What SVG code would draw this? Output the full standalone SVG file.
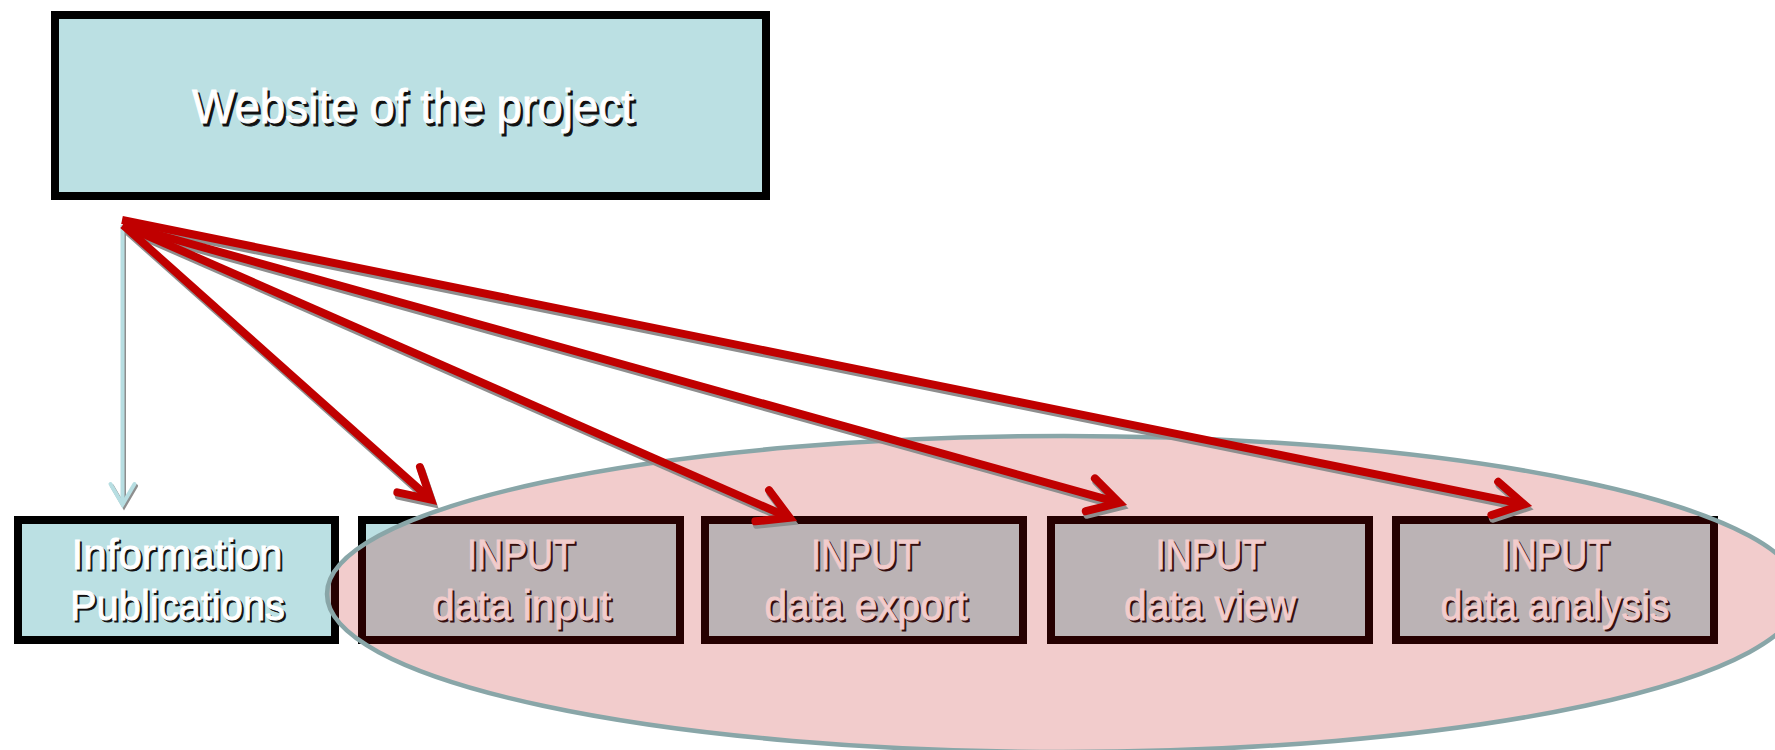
<svg xmlns="http://www.w3.org/2000/svg" width="1775" height="750" viewBox="0 0 1775 750">
<style>
  .box{fill:#BBE0E3;stroke:#000;stroke-width:8}
  .boxsh{fill:#222}
  .t{font-family:"Liberation Sans Narrow","Liberation Sans",Arial,sans-serif;fill:#fff;stroke:#fff;stroke-width:0.9;text-anchor:middle}
  .ts{font-family:"Liberation Sans Narrow","Liberation Sans",Arial,sans-serif;fill:#111;stroke:#111;stroke-width:0.9;text-anchor:middle}
  .big{font-size:49px}
  .sm{font-size:43px}
  .red{fill:none;stroke:#C00000;stroke-width:8}
  .redsh{fill:none;stroke:#8E8E8E;stroke-width:8}
  .blue{fill:none;stroke:#B7DEE2;stroke-width:4}
  .bluesh{fill:none;stroke:#8E8E8E;stroke-width:4}
</style>
<defs>
  <marker id="hr" markerUnits="userSpaceOnUse" orient="auto" refX="-9" refY="0" markerWidth="60" markerHeight="60" viewBox="-50 -30 60 60" overflow="visible">
    <path d="M -38,-17 L -8,0 L -38,17" fill="none" stroke="#C00000" stroke-width="8" stroke-linecap="round" stroke-linejoin="miter"/>
  </marker>
  <marker id="hrs" markerUnits="userSpaceOnUse" orient="auto" refX="-9" refY="0" markerWidth="60" markerHeight="60" viewBox="-50 -30 60 60" overflow="visible">
    <path d="M -38,-17 L -8,0 L -38,17" fill="none" stroke="#8E8E8E" stroke-width="8" stroke-linecap="round" stroke-linejoin="miter"/>
  </marker>
  <marker id="hb" markerUnits="userSpaceOnUse" orient="auto" refX="-4" refY="0" markerWidth="40" markerHeight="40" viewBox="-30 -20 40 40" overflow="visible">
    <path d="M -25,-12 L -4.5,0 L -25,12" fill="none" stroke="#B7DEE2" stroke-width="4" stroke-linecap="round"/>
  </marker>
  <marker id="hbs" markerUnits="userSpaceOnUse" orient="auto" refX="-4" refY="0" markerWidth="40" markerHeight="40" viewBox="-30 -20 40 40" overflow="visible">
    <path d="M -25,-12 L -4.5,0 L -25,12" fill="none" stroke="#8E8E8E" stroke-width="4" stroke-linecap="round"/>
  </marker>
</defs>
<rect width="1775" height="750" fill="#fff"/>

<g id="website">
  <rect class="boxsh" x="58" y="18" width="711" height="181"/>
  <rect class="box" x="55" y="15" width="711" height="181"/>
  <text class="ts big" x="415.5" y="125.5" textLength="442" lengthAdjust="spacingAndGlyphs">Website of the project</text>
  <text class="t big" x="413" y="123" textLength="442" lengthAdjust="spacingAndGlyphs">Website of the project</text>
</g>

<g id="info">
  <rect class="box" x="18" y="520" width="317" height="120"/>
  <text class="ts sm" x="179" y="571" textLength="211" lengthAdjust="spacingAndGlyphs">Information</text>
  <text class="t sm" x="177" y="569" textLength="211" lengthAdjust="spacingAndGlyphs">Information</text>
  <text class="ts sm" x="179.5" y="622" textLength="215" lengthAdjust="spacingAndGlyphs">Publications</text>
  <text class="t sm" x="177.5" y="620" textLength="215" lengthAdjust="spacingAndGlyphs">Publications</text>
</g>

<g id="input-data-input">
  <rect class="box" x="362" y="520" width="318" height="120"/>
  <text class="ts sm" x="523" y="571" textLength="108" lengthAdjust="spacingAndGlyphs">INPUT</text>
  <text class="t sm" x="521" y="569" textLength="108" lengthAdjust="spacingAndGlyphs">INPUT</text>
  <text class="ts sm" x="523.5" y="622" textLength="179" lengthAdjust="spacingAndGlyphs">data input</text>
  <text class="t sm" x="521.5" y="620" textLength="179" lengthAdjust="spacingAndGlyphs">data input</text>
</g>

<g id="input-data-export">
  <rect class="box" x="705" y="520" width="318" height="120"/>
  <text class="ts sm" x="867" y="571" textLength="108" lengthAdjust="spacingAndGlyphs">INPUT</text>
  <text class="t sm" x="865" y="569" textLength="108" lengthAdjust="spacingAndGlyphs">INPUT</text>
  <text class="ts sm" x="868" y="622" textLength="203" lengthAdjust="spacingAndGlyphs">data export</text>
  <text class="t sm" x="866" y="620" textLength="203" lengthAdjust="spacingAndGlyphs">data export</text>
</g>

<g id="input-data-view">
  <rect class="box" x="1051" y="520" width="318" height="120"/>
  <text class="ts sm" x="1212" y="571" textLength="109" lengthAdjust="spacingAndGlyphs">INPUT</text>
  <text class="t sm" x="1210" y="569" textLength="109" lengthAdjust="spacingAndGlyphs">INPUT</text>
  <text class="ts sm" x="1212" y="622" textLength="172" lengthAdjust="spacingAndGlyphs">data view</text>
  <text class="t sm" x="1210" y="620" textLength="172" lengthAdjust="spacingAndGlyphs">data view</text>
</g>

<g id="input-data-analysis">
  <rect class="box" x="1396" y="520" width="318" height="120"/>
  <text class="ts sm" x="1557" y="571" textLength="109" lengthAdjust="spacingAndGlyphs">INPUT</text>
  <text class="t sm" x="1555" y="569" textLength="109" lengthAdjust="spacingAndGlyphs">INPUT</text>
  <text class="ts sm" x="1557" y="622" textLength="229" lengthAdjust="spacingAndGlyphs">data analysis</text>
  <text class="t sm" x="1555" y="620" textLength="229" lengthAdjust="spacingAndGlyphs">data analysis</text>
</g>

<g id="input-group">
  <ellipse cx="1064" cy="594" rx="737" ry="158" fill="#C00000" fill-opacity="0.2" stroke="#89A6A8" stroke-width="4.5"/>
</g>

<g id="connectors">
  <g class="shadows">
    <path class="bluesh" d="M 124,228 L 124,507" marker-end="url(#hbs)"/>
    <path class="redsh" d="M 124.5,228.5 L 431.8,502.5" marker-end="url(#hrs)"/>
    <path class="redsh" d="M 124.5,228.5 L 790.3,520.9" marker-end="url(#hrs)"/>
    <path class="redsh" d="M 124.5,228.5 L 1119.8,506.1" marker-end="url(#hrs)"/>
    <path class="redsh" d="M 123.5,223.5 L 1524.7,507.7" marker-end="url(#hrs)"/>
  </g>
  <path class="blue" d="M 122.5,225 L 122.5,505" marker-end="url(#hb)"/>
  <path class="red" d="M 123,225 L 430.3,499" marker-end="url(#hr)"/>
  <path class="red" d="M 123,225 L 788.8,517.4" marker-end="url(#hr)"/>
  <path class="red" d="M 123,225 L 1118.3,502.6" marker-end="url(#hr)"/>
  <path class="red" d="M 122,220 L 1523.2,504.2" marker-end="url(#hr)"/>
</g>
</svg>
